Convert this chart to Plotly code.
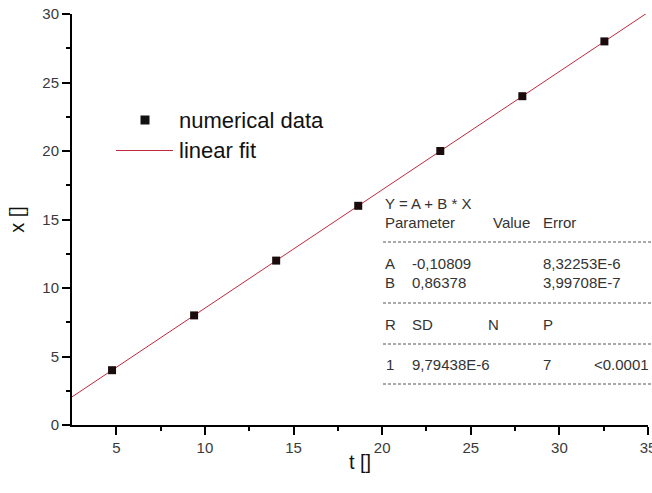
import plotly.graph_objects as go

# ---- data ----
t_data = [4.76, 9.39, 14.02, 18.65, 23.28, 27.91, 32.54]
x_data = [4, 8, 12, 16, 20, 24, 28]
fit_t = [2.5, 35.0]
fit_x = [2.05, 30.12]

x_ticks = [5, 10, 15, 20, 25, 30, 35]
y_ticks = [0, 5, 10, 15, 20, 25, 30]

legend_labels = ["numerical data", "linear fit"]

table_title = "Y = A + B * X"
table_header1 = ["Parameter", "Value", "Error"]
table_rows1 = [["A", "-0,10809", "8,32253E-6"], ["B", "0,86378", "3,99708E-7"]]
table_header2 = ["R", "SD", "N", "P"]
table_row2 = ["1", "9,79438E-6", "7", "<0.0001"]

# ---- layout geometry (pixels) ----
W, H = 652, 493
L, R, T, B = 72, 4, 14, 68
PW, PH = W - L - R, H - T - B
FONT = "Liberation Sans, Arial, sans-serif"


def px(x):
    return (x - L) / PW


def py(y):
    return (H - B - y) / PH


fig = go.Figure()
fig.add_trace(go.Scatter(x=fit_t, y=fit_x, mode="lines",
                         line=dict(color="#c0283c", width=1), name=legend_labels[1],
                         showlegend=False))
fig.add_trace(go.Scatter(x=t_data, y=x_data, mode="markers",
                         marker=dict(symbol="square", size=8, color="#1a0c0c"),
                         name=legend_labels[0], showlegend=False))

annotations = []
shapes = []

# manual legend
shapes.append(dict(type="rect", xref="paper", yref="paper",
                   x0=px(140.5), x1=px(149.5), y0=py(124.5), y1=py(115.5),
                   fillcolor="#111", line=dict(width=0)))
shapes.append(dict(type="line", xref="paper", yref="paper",
                   x0=px(116), x1=px(173), y0=py(150.5), y1=py(150.5),
                   line=dict(color="#c0283c", width=1)))
annotations.append(dict(text=legend_labels[0], x=px(177), y=py(120), xref="paper", yref="paper",
                        xanchor="left", yanchor="middle", showarrow=False,
                        font=dict(size=22, color="#111", family=FONT)))
annotations.append(dict(text=legend_labels[1], x=px(177), y=py(150), xref="paper", yref="paper",
                        xanchor="left", yanchor="middle", showarrow=False,
                        font=dict(size=22, color="#111", family=FONT)))


def txt(s, x, y, anchor="left"):
    annotations.append(dict(text=s, x=px(x), y=py(y), xref="paper", yref="paper",
                            xanchor=anchor, yanchor="middle", showarrow=False,
                            font=dict(size=15, color="#333", family=FONT)))


def dash(y):
    shapes.append(dict(type="line", xref="paper", yref="paper",
                       x0=px(383), x1=px(652), y0=py(y), y1=py(y),
                       line=dict(color="#555", width=1, dash="3px,2px")))


col1, col2, col3, col4 = 383, 410, 486, 541
txt(table_title, col1, 203)
txt(table_header1[0], col1, 222)
txt(table_header1[1], 491, 222)
txt(table_header1[2], col4, 222)
dash(242)
for i, row in enumerate(table_rows1):
    yy = 263 + 19 * i
    txt(row[0], col1, yy)
    txt(row[1], col2, yy)
    txt(row[2], col4, yy)
dash(303)
txt(table_header2[0], col1, 324)
txt(table_header2[1], col2, 324)
txt(table_header2[2], col3, 324)
txt(table_header2[3], col4, 324)
dash(344)
txt(table_row2[0], col1 + 1, 364)
txt(table_row2[1], col2, 364)
txt(table_row2[2], col4, 364)
txt(table_row2[3], 651, 364, anchor="right")
dash(384)

axis_common = dict(
    showgrid=False, zeroline=False, showline=True, linecolor="#000", linewidth=2,
    ticks="outside", ticklen=8, tickwidth=1.5, tickcolor="#000",
    tickfont=dict(size=15, color="#3a3a3a", family=FONT),
    automargin=False, mirror=False,
)

fig.update_layout(
    width=W, height=H,
    margin=dict(l=L, r=R, t=T, b=B),
    paper_bgcolor="white", plot_bgcolor="white",
    showlegend=False,
    xaxis=dict(range=[2.5, 35], tickmode="array", tickvals=x_ticks,
               minor=dict(tickvals=[7.5, 12.5, 17.5, 22.5, 27.5, 32.5], ticklen=4,
                          tickcolor="#000", tickwidth=1.5, ticks="outside"),
               title=dict(text="t []", font=dict(size=20, color="#111", family=FONT), standoff=0),
               ticklabeloverflow="allow",
               **axis_common),
    yaxis=dict(range=[0, 30], tickmode="array", tickvals=y_ticks,
               minor=dict(tickvals=[2.5, 7.5, 12.5, 17.5, 22.5, 27.5], ticklen=4,
                          tickcolor="#000", tickwidth=1.5, ticks="outside"),
               title=dict(text="x []", font=dict(size=20, color="#111", family=FONT), standoff=12),
               **axis_common),
    annotations=annotations,
    shapes=shapes,
)

fig.write_html("out.html", config={"displayModeBar": False},
               post_script="document.body.style.margin='0';")
